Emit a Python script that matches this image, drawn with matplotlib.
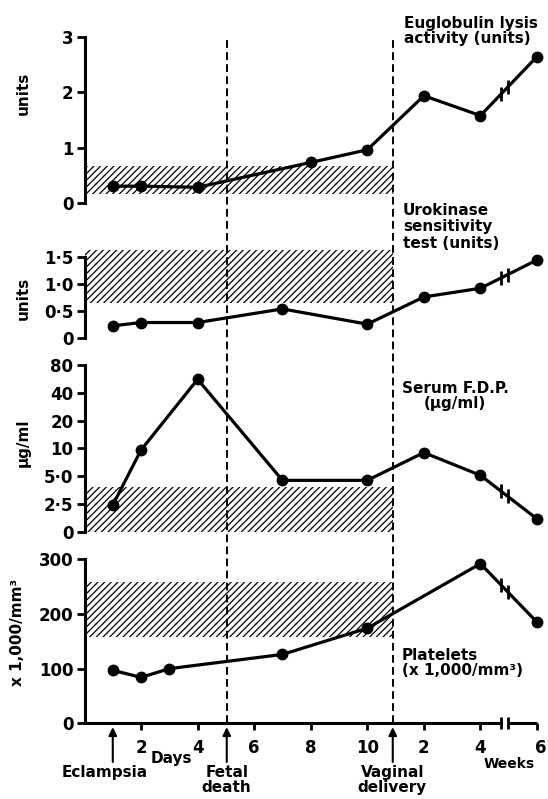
import numpy as np
import matplotlib
matplotlib.use("Agg")
import matplotlib.pyplot as plt
from matplotlib.transforms import blended_transform_factory, ScaledTranslation

W, H = 548, 799

# x is days from admission; weeks after delivery continue on the same axis (week n -> 10 + n)
euglob_x = [1, 2, 4, 8, 10, 12, 14, 16]
euglob_y = [0.3, 0.3, 0.28, 0.73, 0.96, 1.94, 1.58, 2.65]
uro_x = [1, 2, 4, 7, 10, 12, 14, 16]
uro_y = [0.23, 0.29, 0.29, 0.54, 0.26, 0.76, 0.92, 1.44]
fdp_x = [1, 2, 4, 7, 10, 12, 14, 16]
fdp_y = [2.4, 9.6, 56, 4.5, 4.5, 9.0, 5.1, 1.15]
plat_x = [1, 2, 3, 7, 10, 14, 16]
plat_y = [97, 84, 100, 126, 174, 292, 185]

# normal ranges (hatched)
euglob_band = (0.16, 0.66)
uro_band = (0.64, 1.62)
fdp_band = (0, 3.85)
plat_band = (157, 258)

xticks = [2, 4, 6, 8, 10, 12, 14, 16]
xticklabels = ["2", "4", "6", "8", "10", "2", "4", "6"]
events = [1, 5.03, 10.9]
event_labels = ["Eclampsia", "Fetal\ndeath", "Vaginal\ndelivery"]
axis_break = (14.74, 14.97)

plt.rcParams["font.family"] = "DejaVu Sans"
plt.rcParams["font.weight"] = "bold"
plt.rcParams["hatch.linewidth"] = 0.9

fig = plt.figure(figsize=(W / 100, H / 100), dpi=100)


def fdp_fwd(v):
    v = np.asarray(v, dtype=float)
    return np.where(v < 2.5, v / 2.5, 1 + np.log2(np.maximum(v, 2.5) / 2.5))


def fdp_inv(p):
    p = np.asarray(p, dtype=float)
    return np.where(p < 1, 2.5 * p, 2.5 * 2 ** (p - 1))


def make_ax(top_px, bottom_px, ylim, yticks, ylabels, func=None):
    ax = fig.add_axes([84.5 / W, 1 - bottom_px / H, (537 - 84.5) / W, (bottom_px - top_px) / H])
    if func is not None:
        ax.set_yscale("function", functions=func)
    ax.set_xlim(0, 16)
    ax.set_ylim(*ylim)
    ax.patch.set_visible(False)
    for s in ["top", "right", "bottom"]:
        ax.spines[s].set_visible(False)
    ax.spines["left"].set_linewidth(2.2)
    ax.spines["left"].set_bounds(yticks[0], yticks[-1])
    ax.set_xticks([])
    ax.set_yticks(yticks)
    ax.set_yticklabels(ylabels)
    ax.minorticks_off()
    ax.tick_params(axis="y", length=6, width=2, pad=2, labelsize=12)
    return ax


def draw(ax, x, y, band, fwd=None, inv=None):
    ax.fill_between([0, events[2]], band[0], band[1], facecolor="none", edgecolor="black",
                    hatch="/////", linewidth=0, clip_on=False)
    ax.plot(x, y, color="black", lw=2.3, marker="o", ms=7.5, clip_on=False, zorder=3)
    # break marks on the line between week 4 and week 6
    if fwd is None:
        by = np.interp(axis_break, x, y)
    else:
        by = inv(np.interp(axis_break, x, fwd(y)))
    ax.plot(axis_break, by, ls="none", marker="|", ms=10, mew=2, color="black", clip_on=False, zorder=4)


ax1 = make_ax(37.3, 202.7, (0, 3), [0, 1, 2, 3], ["0", "1", "2", "3"])
draw(ax1, euglob_x, euglob_y, euglob_band)

ax2 = make_ax(256.7, 338.3, (0, 1.5), [0, 0.5, 1.0, 1.5], ["0", "0·5", "1·0", "1·5"])
draw(ax2, uro_x, uro_y, uro_band)

ax3 = make_ax(365, 531.7, (0, 80), [0, 2.5, 5, 10, 20, 40, 80],
              ["0", "2·5", "5·0", "10", "20", "40", "80"], func=(fdp_fwd, fdp_inv))
draw(ax3, fdp_x, fdp_y, fdp_band, fdp_fwd, fdp_inv)

ax4 = make_ax(559.3, 723.3, (0, 300), [0, 100, 200, 300], ["0", "100", "200", "300"])
draw(ax4, plat_x, plat_y, plat_band)

# bottom time axis with a break before week 6
ax4.spines["bottom"].set_visible(True)
ax4.spines["bottom"].set_linewidth(2.2)
ax4.spines["bottom"].set_bounds(0, axis_break[0])
ax4.plot([axis_break[1], 16], [0, 0], color="black", lw=2.2, clip_on=False, solid_capstyle="butt")
ax4.plot(axis_break, [0, 0], ls="none", marker="|", ms=9, mew=2, color="black", clip_on=False)
ax4.set_xticks(xticks)
ax4.set_xticklabels(xticklabels)
ax4.tick_params(axis="x", length=5, width=2, pad=6, labelsize=12)
# last week label sits a little right of its tick, as in the original
last = ax4.get_xticklabels()[-1]
last.set_transform(last.get_transform() + ScaledTranslation(0.04, 0, fig.dpi_scale_trans))

# dashed event lines through all panels
trans = blended_transform_factory(ax4.transData, fig.transFigure)
for xe in events[1:]:
    ax4.plot([xe, xe], [1 - 723.3 / H, 1 - 38 / H], transform=trans, color="black",
             lw=1.4, ls=(0, (4, 2.2)), clip_on=False)

# event arrows under the axis
for xe in events:
    ax4.annotate("", xy=(xe, -0.023), xytext=(xe, -0.236),
                 xycoords=("data", "axes fraction"), textcoords=("data", "axes fraction"),
                 arrowprops=dict(arrowstyle="-|>", color="black", lw=1.5, mutation_scale=12,
                                 shrinkA=0, shrinkB=0))


def ft(x, y, s, **kw):
    fig.text(x / W, 1 - y / H, s, **kw)


ft(105, 772, event_labels[0], ha="center", va="center", fontsize=11)
ft(226.7, 780, event_labels[1], ha="center", va="center", fontsize=11, linespacing=1.0)
ft(392.3, 780, event_labels[2], ha="center", va="center", fontsize=11, linespacing=1.0)
ft(171.7, 758, "Days", ha="center", va="center", fontsize=11)
ft(509, 764, "Weeks", ha="center", va="center", fontsize=10)

# series titles
ft(404, 31, "Euglobulin lysis\nactivity (units)", ha="left", va="center", fontsize=11, linespacing=1.0)
ft(403, 227, "Urokinase\nsensitivity\ntest (units)", ha="left", va="center", fontsize=11, linespacing=1.15)
ft(455, 396, "Serum F.D.P.\n(µg/ml)", ha="center", va="center", fontsize=11, linespacing=1.0)
ft(402, 663, "Platelets\n(x 1,000/mm³)", ha="left", va="center", fontsize=11, linespacing=1.0)

# y axis titles
ft(23, 93, "units", rotation=90, ha="center", va="center", fontsize=11)
ft(23, 298, "units", rotation=90, ha="center", va="center", fontsize=11)
ft(23, 443, "µg/ml", rotation=90, ha="center", va="center", fontsize=11)
ft(18, 632, "x 1,000/mm³", rotation=90, ha="center", va="center", fontsize=11)

fig.savefig("out.png", dpi=100)
